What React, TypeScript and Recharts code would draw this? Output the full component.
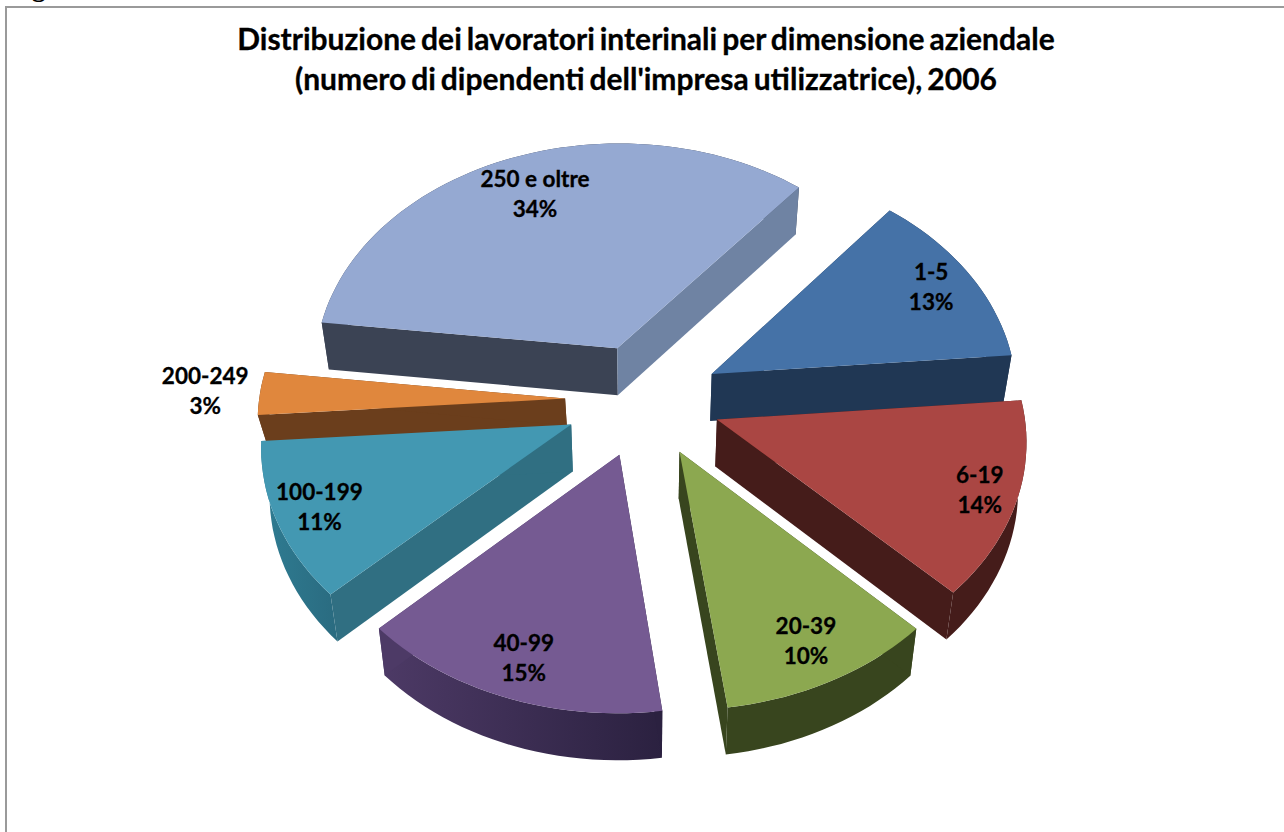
import React from "react";
import { PieChart, Pie } from "recharts";

const categories = ["1-5", "6-19", "20-39", "40-99", "100-199", "200-249", "250 e oltre"];
const shares = [12.7, 13.75, 10.45, 15, 11, 3, 34.1];
const topColors = ["#4572a7", "#aa4643", "#8ca850", "#755a92", "#4398b2", "#e0873d", "#95a9d2"];
const startFaceColors = ["#203754", "#451c1a", "#38451e", "#2b2140", "#306f82", "#6b3e1c", "#3b4354"];
const endFaceColors = ["#203754", "#451c1a", "#38451e", "#4d3a66", "#306f82", "#6b3e1c", "#6f83a3"];
const arcLeftColors = ["#203754", "#451c1a", "#38451e", "#4d3a66", "#2f7c92", "#6b3e1c", "#3b4354"];
const arcRightColors = ["#203754", "#451c1a", "#38451e", "#2b2140", "#2a6b80", "#6b3e1c", "#3b4354"];
const labelFractions = [0.85, 0.88, 0.84, 0.85, 0.86, 1.18, 0.79];
const wallDepths = [47, 47, 47, 47, 47, 27, 47];
const explosions = [76, 76, 76, 76, 80, 80, 76];

const WIDTH = 1284;
const HEIGHT = 832;
const TILT = 0.748;
const PERSPECTIVE = 0.00026;
const WALL_TAPER = 0.978;
const RAD = Math.PI / 180;

const tableData = categories.map((name, i) => ({ name, value: shares[i], fill: topColors[i] }));

function project(cx: number, cy: number, X: number, Y: number) {
  const s = 1 / (1 - PERSPECTIVE * Y);
  return [cx + X * s, cy + TILT * Y * s];
}

function rimPoint(cx: number, cy: number, i: number, mid: number, angle: number, r: number) {
  const X = explosions[i] * Math.cos(mid * RAD) + r * Math.cos(angle * RAD);
  const Y = -explosions[i] * Math.sin(mid * RAD) - r * Math.sin(angle * RAD);
  return project(cx, cy, X, Y);
}

function toPath(points: number[][]) {
  return "M" + points.map((p) => `${p[0].toFixed(1)},${p[1].toFixed(1)}`).join("L") + "Z";
}

function sliceGeometry(props: any) {
  const { cx, cy, startAngle, endAngle, outerRadius, name } = props;
  const i = categories.indexOf(name);
  const mid = (startAngle + endAngle) / 2;
  const apex = rimPoint(cx, cy, i, mid, 0, 0);
  const steps = Math.max(4, Math.ceil(Math.abs(endAngle - startAngle) / 2));
  const rim: number[][] = [];
  for (let k = 0; k <= steps; k++) {
    rim.push(rimPoint(cx, cy, i, mid, startAngle + ((endAngle - startAngle) * k) / steps, outerRadius));
  }
  const down = (p: number[]) => [cx + (p[0] - cx) * WALL_TAPER, p[1] + wallDepths[i]];
  return { i, apex, rim, down };
}

function SliceWalls(props: any) {
  const { i, apex, rim, down } = sliceGeometry(props);
  const first = rim[0];
  const last = rim[rim.length - 1];
  const gradId = `arcwall-${i}`;
  return (
    <g>
      <defs>
        <linearGradient id={gradId} x1="0" y1="0" x2="1" y2="0">
          <stop offset="0" stopColor={arcLeftColors[i]} />
          <stop offset="1" stopColor={arcRightColors[i]} />
        </linearGradient>
      </defs>
      <path d={toPath([...rim, ...rim.slice().reverse().map(down)])} fill={`url(#${gradId})`} />
      <path d={toPath([apex, first, down(first), down(apex)])} fill={startFaceColors[i]} />
      <path d={toPath([apex, last, down(last), down(apex)])} fill={endFaceColors[i]} />
    </g>
  );
}

function SliceTop(props: any) {
  const { i, apex, rim } = sliceGeometry(props);
  return <path d={toPath([apex, ...rim])} fill={topColors[i]} />;
}

function SliceLabel(props: any) {
  const { cx, cy, midAngle, outerRadius, name, value } = props;
  const i = categories.indexOf(name);
  const p = rimPoint(cx, cy, i, midAngle, midAngle, outerRadius * labelFractions[i]);
  return (
    <text
      textAnchor="middle"
      fontFamily="Lato, sans-serif"
      fontWeight={700}
      fontSize={22.5}
      fill="#000"
      stroke="#000"
      strokeWidth={0.3}
    >
      <tspan x={p[0]} y={p[1] - 8}>{name}</tspan>
      <tspan x={p[0]} y={p[1] + 22}>{`${Math.round(value)}%`}</tspan>
    </text>
  );
}

const titleLines = [
  "Distribuzione dei lavoratori interinali per dimensione aziendale",
  "(numero di dipendenti dell'impresa utilizzatrice), 2006",
];

export default function App() {
  const pieProps = {
    data: tableData,
    dataKey: "value",
    nameKey: "name",
    cx: 640,
    cy: 395,
    innerRadius: 0,
    outerRadius: 306,
    startAngle: 50.5,
    endAngle: -309.5,
    paddingAngle: 0,
    stroke: "none",
    isAnimationActive: false,
  };
  return (
    <div style={{ position: "fixed", left: 0, top: 0, width: WIDTH, height: HEIGHT, overflow: "hidden", background: "#fff" }}>
      <div style={{ position: "absolute", left: 8, top: -28, fontFamily: "Liberation Serif, serif", fontWeight: 700, fontSize: 27, lineHeight: "30px", whiteSpace: "nowrap" }}>
        Figura 1
      </div>
      <div style={{ position: "absolute", left: 5, top: 6, width: WIDTH, height: HEIGHT, borderLeft: "2px solid #9a9a9a", borderTop: "2px solid #9a9a9a", boxSizing: "border-box" }} />
      <div style={{ position: "absolute", left: 0, top: 0 }}>
        <PieChart width={WIDTH} height={HEIGHT}>
          <Pie {...pieProps} shape={SliceWalls} labelLine={false} />
          <Pie {...pieProps} shape={SliceTop} label={SliceLabel} labelLine={false} />
        </PieChart>
      </div>
      {titleLines.map((line, i) => (
        <div
          key={line}
          style={{
            position: "absolute",
            left: 0,
            width: 1292,
            top: 18 + i * 40,
            textAlign: "center",
            fontFamily: "Lato, sans-serif",
            fontWeight: 700,
            fontSize: 30,
            wordSpacing: "-2.3px",
            WebkitTextStroke: "0.3px #000",
            lineHeight: "40px",
            whiteSpace: "nowrap",
            color: "#000",
          }}
        >
          {line}
        </div>
      ))}
    </div>
  );
}
